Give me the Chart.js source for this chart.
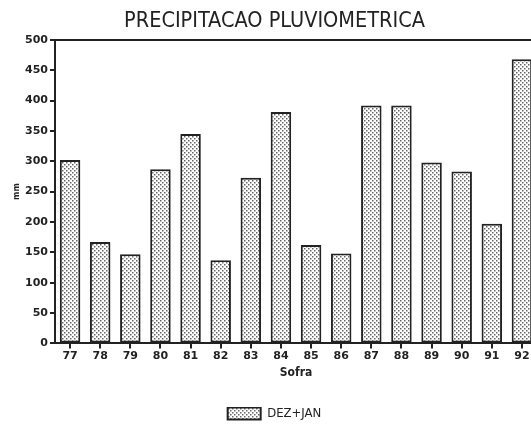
<!DOCTYPE html>
<html>
<head>
<meta charset="utf-8">
<script src="https://cdn.jsdelivr.net/npm/chart.js@4/dist/chart.umd.min.js"></script>
<style>
  html, body { margin: 0; padding: 0; background: #fff; overflow: hidden; }
  #wrap { width: 555px; height: 424px; }
</style>
</head>
<body>
<div id="wrap"><canvas id="chart" width="555" height="424"></canvas></div>
<script>
const safras = ['77', '78', '79', '80', '81', '82', '83', '84', '85', '86', '87', '88', '89', '90', '91', '92'];
const dezJan = [302, 167, 147, 287, 345, 137, 273, 381, 162, 148, 392, 392, 298, 283, 197, 468];
const yTicks = [0, 50, 100, 150, 200, 250, 300, 350, 400, 450, 500];

// dotted fill like the old printer shading
function dotPattern() {
    const c = document.createElement('canvas');
    c.width = 4; c.height = 4;
    const g = c.getContext('2d');
    g.fillStyle = '#fff';
    g.fillRect(0, 0, 4, 4);
    g.fillStyle = '#666';
    g.fillRect(0, 0, 1.5, 1.5);
    g.fillRect(2, 2, 1.5, 1.5);
    return g.createPattern(c, 'repeat');
}

const ink = '#222';
const ctx = document.getElementById('chart').getContext('2d');
new Chart(ctx, {
    type: 'bar',
    data: {
        labels: safras,
        datasets: [{
            label: 'DEZ+JAN',
            data: dezJan,
            backgroundColor: dotPattern(),
            borderColor: ink,
            borderWidth: 2,
            borderSkipped: false,
            barPercentage: 0.68,
            categoryPercentage: 1
        }]
    },
    options: {
        responsive: false,
        animation: false,
        layout: { padding: { top: 4, right: 18, left: 12, bottom: -6 } },
        plugins: {
            title: {
                display: true,
                text: 'PRECIPITACAO PLUVIOMETRICA',
                color: ink,
                font: { family: 'DejaVu Sans Condensed', size: 21.5, weight: 'normal' },
                padding: { top: 5, bottom: 5 }
            },
            legend: {
                position: 'bottom',
                labels: {
                    color: ink,
                    boxWidth: 33,
                    boxHeight: 12,
                    font: { family: 'DejaVu Sans Condensed', size: 13 },
                    padding: 0
                }
            },
            tooltip: { enabled: false }
        },
        scales: {
            x: {
                grid: { offset: false, drawOnChartArea: false, color: ink, tickLength: 5, lineWidth: 2 },
                border: { color: ink, width: 2 },
                ticks: { color: ink, padding: 1, font: { family: 'DejaVu Sans', size: 11, weight: 'bold' }, maxRotation: 0 },
                title: { display: true, text: 'Sofra', color: ink, padding: { top: 2, bottom: 27 },
                         font: { family: 'DejaVu Sans Condensed', size: 12, weight: 'bold' } }
            },
            y: {
                min: 0,
                max: 500,
                afterBuildTicks: s => { s.ticks = yTicks.map(v => ({ value: v })); },
                afterFit: s => { s.width = 43; },
                grid: {
                    color: c => c.tick && c.tick.value === 500 ? ink : 'transparent',
                    tickColor: ink,
                    tickLength: 5,
                    lineWidth: 2
                },
                border: { color: ink, width: 2 },
                ticks: { color: ink, padding: 2, font: { family: 'DejaVu Sans', size: 11, weight: 'bold' } },
                title: { display: true, text: 'mm', color: ink, padding: 0,
                         font: { family: 'DejaVu Sans', size: 8, weight: 'bold' } }
            }
        }
    }
});
</script>
</body>
</html>
